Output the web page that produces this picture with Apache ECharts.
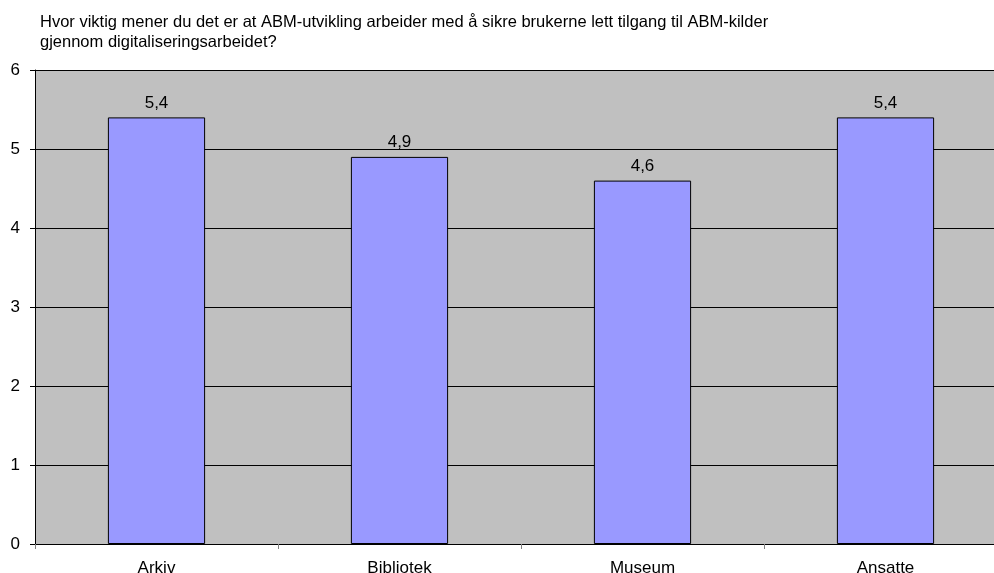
<!DOCTYPE html>
<html><head><meta charset="utf-8">
<script src="https://cdn.jsdelivr.net/npm/echarts@6/dist/echarts.min.js"></script>
<style>html,body{margin:0;padding:0;background:#fff}#wrap{position:relative;width:994px;height:573px;overflow:hidden}#c{position:absolute;left:0;top:0;width:1007px;height:573px}</style>
</head><body><div id="wrap"><div id="c"></div></div>
<script>
const titleLines = ['Hvor viktig mener du det er at ABM-utvikling arbeider med å sikre brukerne lett tilgang til ABM-kilder', 'gjennom digitaliseringsarbeidet?'];
const categories = ['Arkiv', 'Bibliotek', 'Museum', 'Ansatte'];
const values = [5.4, 4.9, 4.6, 5.4];
const yTicks = [0, 1, 2, 3, 4, 5, 6];

const FONT = 'Liberation Sans, Arial, sans-serif';
const chart = echarts.init(document.getElementById('c'));
chart.setOption({
  animation: false,
  title: {
    text: titleLines.join('\n'),
    left: 35, top: 7,
    textStyle: {fontFamily: FONT, fontSize: 16.5, fontWeight: 'normal', color: '#000', lineHeight: 20}
  },
  grid: {left: 35, right: 0, top: 70, bottom: 29, outerBoundsMode: 'none',
    show: true, backgroundColor: '#C0C0C0', borderColor: '#808080', borderWidth: 0},
  xAxis: {
    type: 'category', data: categories,
    axisLine: {lineStyle: {color: '#000', width: 1}},
    axisTick: {show: true, length: 5, lineStyle: {color: '#808080'}},
    axisLabel: {fontFamily: FONT, fontSize: 17, color: '#000', margin: 16},
    splitLine: {show: false}
  },
  yAxis: {
    type: 'value', min: yTicks[0], max: yTicks[yTicks.length - 1], interval: 1,
    axisLine: {show: true, lineStyle: {color: '#000', width: 1}},
    axisTick: {show: true, length: 5, lineStyle: {color: '#000'}},
    axisLabel: {fontFamily: FONT, fontSize: 17, color: '#000', margin: 15},
    splitLine: {show: true, lineStyle: {color: '#000', width: 1}}
  },
  series: [{
    type: 'bar', data: values, barWidth: '40%',
    itemStyle: {color: '#9999FF', borderColor: '#000', borderWidth: 1},
    label: {show: true, position: 'top', distance: 6,
      fontFamily: FONT, fontSize: 17, color: '#000',
      formatter: p => String(p.value).replace('.', ',')}
  }]
});
</script></body></html>
